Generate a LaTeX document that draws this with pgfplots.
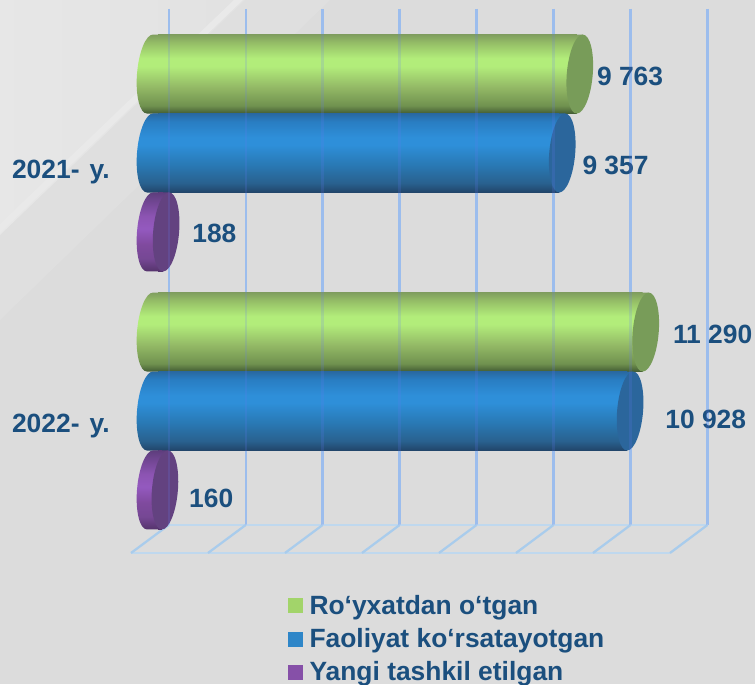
\documentclass[border=0pt]{standalone}
\usepackage{fontspec}
\setmainfont{Liberation Sans}
\usepackage{pgfplots}
\pgfplotsset{compat=1.18}
\definecolor{txt}{HTML}{1B4F7E}
\definecolor{gridc}{HTML}{A9CCEC}
\definecolor{floorc}{HTML}{BFD8EE}
\definecolor{legG}{HTML}{A2D46A}
\definecolor{legB}{HTML}{2E86C8}
\definecolor{legP}{HTML}{8650A8}
\definecolor{capG}{rgb}{0.47,0.61,0.35}
\definecolor{capB}{rgb}{0.17,0.40,0.61}
\definecolor{capP}{rgb}{0.39,0.26,0.50}
\pgfdeclareverticalshading{cylG}{100bp}{rgb(0bp)=(0.26,0.36,0.20); rgb(25bp)=(0.26,0.36,0.20); rgb(30bp)=(0.44,0.57,0.31); rgb(42bp)=(0.58,0.73,0.40); rgb(55bp)=(0.70,0.93,0.48); rgb(60bp)=(0.70,0.93,0.48); rgb(70bp)=(0.58,0.74,0.40); rgb(75bp)=(0.50,0.62,0.37); rgb(100bp)=(0.50,0.62,0.37)}
\pgfdeclareverticalshading{cylB}{100bp}{rgb(0bp)=(0.13,0.27,0.41); rgb(25bp)=(0.13,0.27,0.41); rgb(31bp)=(0.16,0.38,0.56); rgb(42bp)=(0.16,0.47,0.70); rgb(55bp)=(0.18,0.56,0.85); rgb(60bp)=(0.18,0.56,0.85); rgb(70bp)=(0.16,0.49,0.76); rgb(75bp)=(0.16,0.41,0.63); rgb(100bp)=(0.16,0.41,0.63)}
\pgfdeclareverticalshading{cylP}{100bp}{rgb(0bp)=(0.33,0.20,0.42); rgb(25bp)=(0.33,0.20,0.42); rgb(33bp)=(0.46,0.28,0.58); rgb(42bp)=(0.50,0.29,0.62); rgb(52bp)=(0.58,0.35,0.75); rgb(60bp)=(0.55,0.33,0.70); rgb(75bp)=(0.37,0.24,0.49); rgb(100bp)=(0.37,0.24,0.49)}
% left end of a cylinder (mark origin at value 0), right end (mark origin at the value)
\newcommand\leftcap[2]{\pgfdeclareplotmark{#1}{\path[draw=none,shade,shading=#2,x=.75pt,y=.75pt] (0.5,39.5) -- (-5,39.5) .. controls (-12.2,39.5) and (-19.34,21.8) .. (-21,0) .. controls (-22.66,-21.8) and (-18.15,-39.5) .. (-11,-39.5) -- (0.5,-39.5) -- cycle;}}
\newcommand\rightcap[3]{\pgfdeclareplotmark{#1}{%
\path[draw=none,shade,shading=#3,x=.75pt,y=.75pt] (-3.5,39.5) -- (3,39.5) -- (-3,-39.5) -- (-3.5,-39.5) -- cycle;
\path[draw=none,fill=#2,x=.75pt,y=.75pt] (3,39.5) .. controls (10.18,39.5) and (14.66,21.8) .. (13,0) .. controls (11.34,-21.8) and (4.18,-39.5) .. (-3,-39.5) .. controls (-10.18,-39.5) and (-14.66,-21.8) .. (-13,0) .. controls (-11.34,21.8) and (-4.18,39.5) .. (3,39.5) -- cycle;}}
\leftcap{lG}{cylG}\leftcap{lB}{cylB}\leftcap{lP}{cylP}
\rightcap{rG}{capG}{cylG}
\rightcap{rB}{capB}{cylB}
\rightcap{rP}{capP}{cylP}
\pgfplotsset{
  pix/.style={scale only axis,width=566.25pt,height=513pt,xmin=0,xmax=755,ymin=0,ymax=684,y dir=reverse,hide axis,clip=true},
  body/.style={xbar,draw=none,shade,shading=#1,forget plot,x filter/.code={\pgfmathparse{\pgfmathresult-70}}},
  capmark/.style={only marks,draw=none,mark=#1,forget plot,mark options={draw=none}},
}
\newcommand\wallgrid[2]{%
  \addplot[#1,#2,line width=1.7pt] coordinates {(168.7,9)(168.7,525)};
  \addplot[#1,#2,line width=1.7pt] coordinates {(245.7,9)(245.7,525)};
  \addplot[#1,#2,line width=1.7pt] coordinates {(322.6,9)(322.6,525)};
  \addplot[#1,#2,line width=1.7pt] coordinates {(399.6,9)(399.6,525)};
  \addplot[#1,#2,line width=1.7pt] coordinates {(476.5,9)(476.5,525)};
  \addplot[#1,#2,line width=1.7pt] coordinates {(553.5,9)(553.5,525)};
  \addplot[#1,#2,line width=1.7pt] coordinates {(630.5,9)(630.5,525)};
  \addplot[#1,#2,line width=1.7pt] coordinates {(707.4,9)(707.4,525)};
}
\begin{document}
\begin{tikzpicture}
\useasboundingbox (0,0) rectangle (566.25pt,513pt);
\fill[white!86.3!black] (0,0) rectangle (566.25pt,513pt);
\begin{scope}[x=.75pt,y=-.75pt,yshift=513pt]
\fill[white!87.4!black] (243,0) -- (330,0) -- (0,320) -- (0,233) -- cycle;
\shade[left color=white!90.5!black,right color=white!88.5!black] (0,0) -- (245,0) -- (0,235) -- cycle;
\fill[white!91.5!black] (0,224) -- (234,0) -- (243,0) -- (0,233) -- cycle;
\end{scope}
\begin{axis}[pix]
\wallgrid{gridc}{solid}
\addplot[floorc,line width=1.7pt] coordinates {(168,525)(708,525)};
\addplot[floorc,line width=1.7pt] coordinates {(131,553)(670,553)};
\addplot[gridc,line width=1.7pt] coordinates {(168.7,525)(131,553)};
\addplot[gridc,line width=1.7pt] coordinates {(245.7,525)(208,553)};
\addplot[gridc,line width=1.7pt] coordinates {(322.6,525)(285,553)};
\addplot[gridc,line width=1.7pt] coordinates {(399.6,525)(362,553)};
\addplot[gridc,line width=1.7pt] coordinates {(476.5,525)(439,553)};
\addplot[gridc,line width=1.7pt] coordinates {(553.5,525)(516,553)};
\addplot[gridc,line width=1.7pt] coordinates {(630.5,525)(593,553)};
\addplot[gridc,line width=1.7pt] coordinates {(707.4,525)(670,553)};
\end{axis}
\begin{axis}[
  scale only axis,width=566.25pt,height=513pt,
  xmin=-3657.4,xmax=13819.4,ymin=-0.59302,ymax=2.05814,y dir=reverse,
  axis line style={draw=none},
  xtick=\empty,ytick={0.015,1},yticklabels={2021-\kern2pt{} y.,2022-\kern2pt{} y.},
  tick style={draw=none},
  yticklabel style={font=\fontsize{19.8}{22}\selectfont\bfseries,text=txt,anchor=east,xshift=85.75pt,yshift=-11pt},
  bar width=59.25pt,bar shift=0pt,
  legend cell align=left,
  legend style={at={(0.3815,0.1345)},anchor=north west,draw=none,fill=none,inner sep=0pt,
    font=\fontsize{19.8}{22}\selectfont\bfseries,text=txt,row sep=5.25pt,
    /tikz/every odd column/.append style={column sep=3pt}},
  clip=false,
]
\addplot[capmark=lG] coordinates {(0,-0.306)(0,0.694)};
\addplot[body=cylG] coordinates {(9763,-0.306)};
\addplot[body=cylG] coordinates {(11290,0.694)};
\addplot[capmark=rG] coordinates {(9763,-0.306)(11290,0.694)};
\addplot[capmark=lB] coordinates {(0,0)(0,1)};
\addplot[body=cylB] coordinates {(9357,0)};
\addplot[body=cylB] coordinates {(10928,1)};
\addplot[capmark=rB] coordinates {(9357,0)(10928,1)};
\addplot[capmark=lP] coordinates {(0,0.306)(0,1.306)};
\addplot[body=cylP] coordinates {(188,0.306)};
\addplot[body=cylP] coordinates {(160,1.306)};
\addplot[capmark=rP] coordinates {(188,0.306)(160,1.306)};
\addlegendimage{legend image code/.code={\fill[legG] (0pt,-5.25pt) rectangle (10.5pt,5.25pt);}}
\addlegendentry{Ro‘yxatdan o‘tgan}
\addlegendimage{legend image code/.code={\fill[legB] (0pt,-5.25pt) rectangle (10.5pt,5.25pt);}}
\addlegendentry{Faoliyat ko‘rsatayotgan}
\addlegendimage{legend image code/.code={\fill[legP] (0pt,-5.25pt) rectangle (10.5pt,5.25pt);}}
\addlegendentry{Yangi tashkil etilgan}
\tikzset{vl/.style={anchor=west,inner sep=0pt,text=txt,font=\fontsize{19.8}{22}\selectfont\bfseries}}
\node[vl,xshift=12.75pt,yshift=-1.5pt] at (axis cs:9763,-0.306) {9 763};
\node[vl,xshift=15pt,yshift=-9pt] at (axis cs:9357,0) {9 357};
\node[vl,xshift=19.5pt,yshift=-0.75pt] at (axis cs:188,0.306) {188};
\node[vl,xshift=20.25pt,yshift=-1.5pt] at (axis cs:11290,0.694) {11 290};
\node[vl,xshift=26.25pt,yshift=-6pt] at (axis cs:10928,1) {10 928};
\node[vl,xshift=18pt,yshift=-6pt] at (axis cs:160,1.306) {160};
\end{axis}
\begin{axis}[pix]
\wallgrid{gridc!60!blue}{opacity=0.18}
\end{axis}
\end{tikzpicture}
\end{document}
